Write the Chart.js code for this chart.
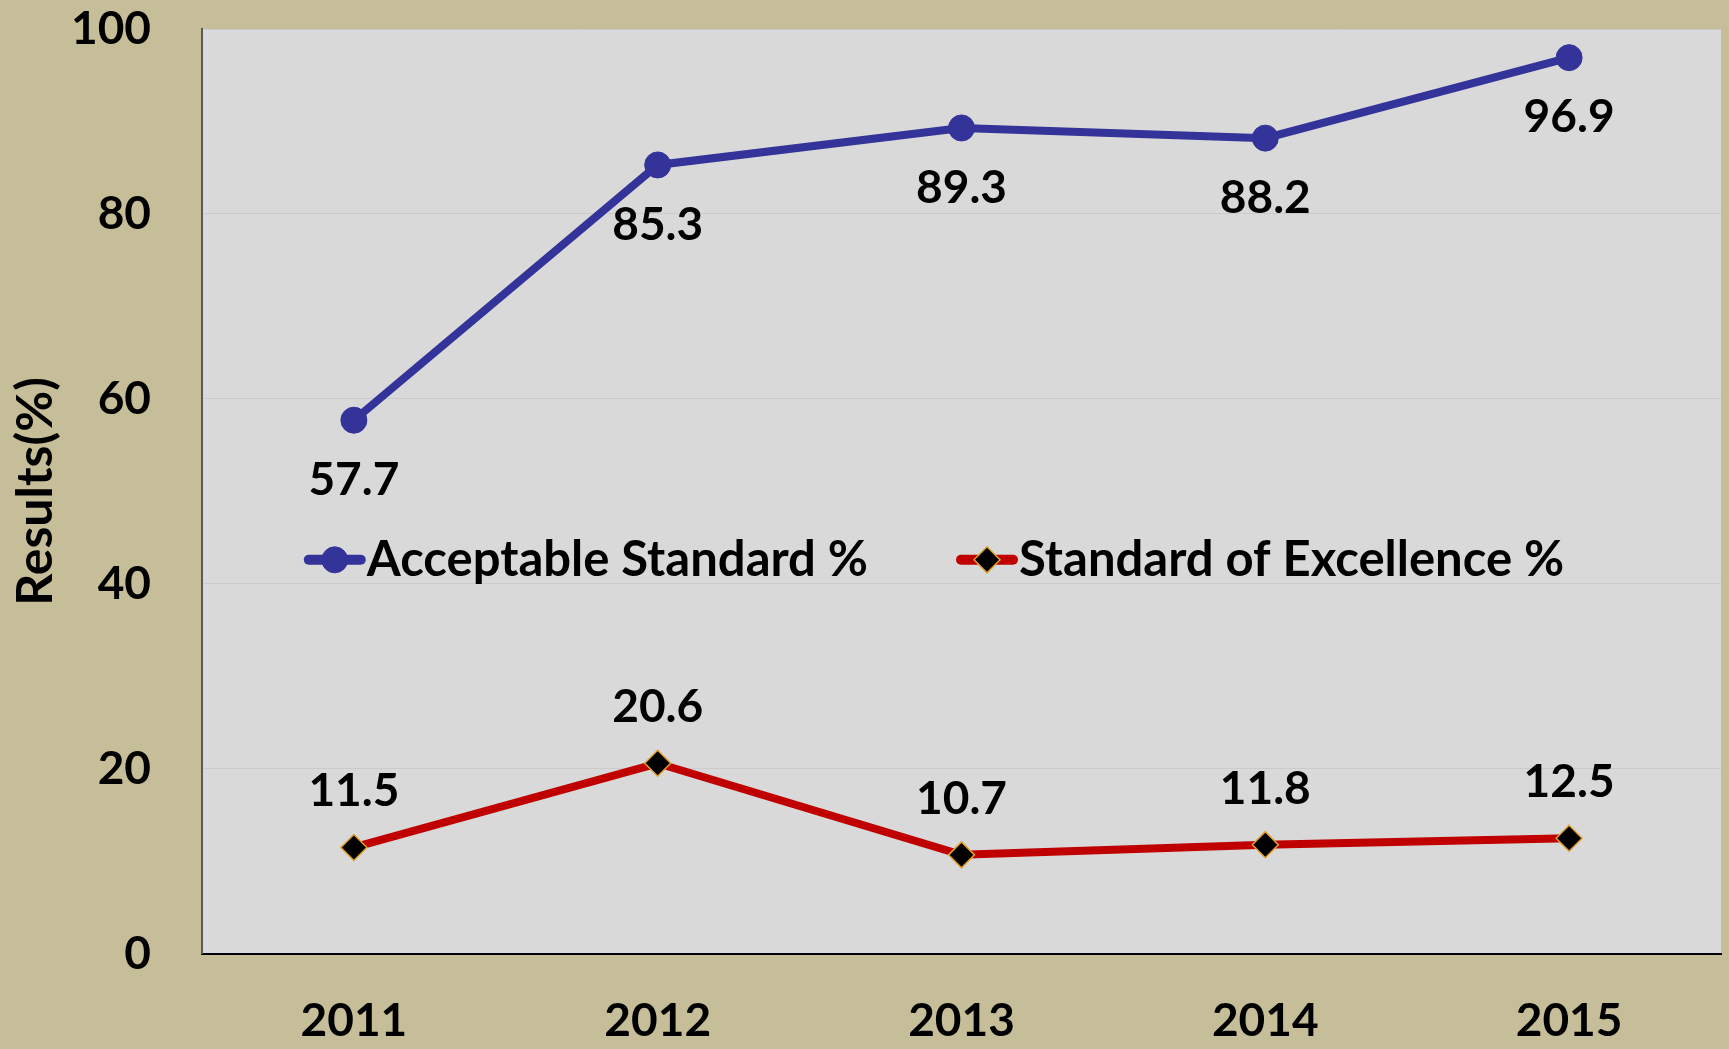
<!DOCTYPE html>
<html>
<head>
<meta charset="utf-8">
<title>Results</title>
<script src="https://cdn.jsdelivr.net/npm/chart.js@4.4.0/dist/chart.umd.min.js"></script>
<style>
	html, body { margin: 0; padding: 0; background: #c5be98; }
	#wrap { width: 1729px; height: 1049px; }
</style>
</head>
<body>
<div id="wrap"><canvas id="chart"></canvas></div>

<script>
// data
var years = ["2011", "2012", "2013", "2014", "2015"];
var acceptable = [57.7, 85.3, 89.3, 88.2, 96.9];
var excellence = [11.5, 20.6, 10.7, 11.8, 12.5];
var seriesNames = ["Acceptable Standard %", "Standard of Excellence %"];
var yTicks = [0, 20, 40, 60, 80, 100];

var FONT = "Lato, 'Open Sans', sans-serif";

// beige page + grey plot area
var background = {
	id: "background",
	beforeDraw: function (chart) {
		var ctx = chart.ctx, a = chart.chartArea;
		ctx.save();
		ctx.fillStyle = "#c5be98";
		ctx.fillRect(0, 0, chart.width, chart.height);
		ctx.fillStyle = "#d9d9d9";
		ctx.fillRect(a.left, a.top, a.right - a.left, a.bottom - a.top);
		ctx.restore();
	}
};

// value labels: blue below the point, red above
var valueLabels = {
	id: "valueLabels",
	afterDatasetsDraw: function (chart) {
		var ctx = chart.ctx;
		ctx.save();
		ctx.font = "bold 46px " + FONT;
		ctx.fillStyle = "#000";
		ctx.textAlign = "center";
		ctx.textBaseline = "middle";
		chart.data.datasets.forEach(function (ds, i) {
			var meta = chart.getDatasetMeta(i);
			meta.data.forEach(function (pt, j) {
				var dy = i === 0 ? 60 : -56;
				ctx.fillText(ds.data[j].toFixed(1), pt.x, pt.y + dy);
			});
		});
		ctx.restore();
	}
};

// legend drawn inside the plot area
var innerLegend = {
	id: "innerLegend",
	afterDatasetsDraw: function (chart) {
		var ctx = chart.ctx, a = chart.chartArea;
		var w = a.right - a.left, h = a.bottom - a.top;
		var y = a.top + h * 0.574;
		var starts = [0.067, 0.4964];
		ctx.save();
		chart.data.datasets.forEach(function (ds, i) {
			var x = a.left + w * starts[i];
			ctx.strokeStyle = ds.borderColor;
			ctx.lineWidth = 10;
			ctx.lineCap = "round";
			ctx.beginPath();
			ctx.moveTo(x + 5, y);
			ctx.lineTo(x + 57, y);
			ctx.stroke();
			ctx.fillStyle = ds.pointBackgroundColor;
			ctx.strokeStyle = ds.pointBorderColor;
			ctx.lineWidth = ds.pointBorderWidth;
			Chart.helpers.drawPoint(ctx, {
				pointStyle: ds.pointStyle,
				radius: 13,
				borderWidth: ds.pointBorderWidth
			}, x + 31, y);
			ctx.font = "bold 49px " + FONT;
			ctx.fillStyle = "#000";
			ctx.textAlign = "left";
			ctx.textBaseline = "middle";
			ctx.fillText(ds.label, x + 63, y);
		});
		ctx.restore();
	}
};

var ctx = document.getElementById("chart").getContext("2d");
window.line = new Chart(ctx, {
	type: "line",
	data: {
		labels: years,
		datasets: [{
			label: seriesNames[0],
			data: acceptable,
			borderColor: "#333399",
			backgroundColor: "#333399",
			borderWidth: 8,
			pointStyle: "circle",
			pointRadius: 13,
			pointBackgroundColor: "#333399",
			pointBorderColor: "#333399",
			pointBorderWidth: 1,
			tension: 0
		}, {
			label: seriesNames[1],
			data: excellence,
			borderColor: "#c00000",
			backgroundColor: "#c00000",
			borderWidth: 8,
			pointStyle: "rectRot",
			pointRadius: 13,
			pointBackgroundColor: "#000000",
			pointBorderColor: "#e0a030",
			pointBorderWidth: 1.5,
			tension: 0
		}]
	},
	options: {
		responsive: true,
		maintainAspectRatio: false,
		animation: false,
		layout: { autoPadding: false, padding: { left: 4, right: 8, top: 29, bottom: 0 } },
		plugins: {
			legend: { display: false },
			tooltip: { enabled: false }
		},
		scales: {
			x: {
				offset: true,
				grid: { display: true, drawOnChartArea: false, drawTicks: true, tickLength: 40, tickColor: "rgba(0,0,0,0)" },
				border: { display: true, color: "#000", width: 2 },
				ticks: {
					padding: 0,
					color: "#000",
					font: { family: FONT, size: 46, weight: "bold" }
				}
			},
			y: {
				min: 0,
				max: 100,
				afterBuildTicks: function (scale) {
					scale.ticks = yTicks.map(function (v) { return { value: v }; });
				},
				afterFit: function (scale) {
					scale.width = 198;
				},
				grid: { color: "#cbcbcb", lineWidth: 1, drawTicks: true, tickLength: 51, tickColor: "rgba(0,0,0,0)" },
				border: { display: true, color: "#595959", width: 2 },
				ticks: {
					padding: 0,
					color: "#000",
					font: { family: FONT, size: 46, weight: "bold" }
				},
				title: {
					display: true,
					text: "Results(%)",
					color: "#000",
					padding: { top: 2, bottom: 8 },
					font: { family: FONT, size: 50, weight: "bold" }
				}
			}
		}
	},
	plugins: [background, valueLabels, innerLegend]
});
</script>
</body>
</html>
